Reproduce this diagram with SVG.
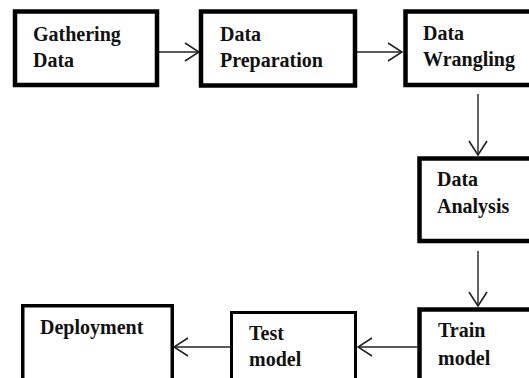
<svg xmlns="http://www.w3.org/2000/svg" width="529" height="378" viewBox="0 0 529 378">
  <style>
    .box { fill: #fff; stroke: #000; stroke-width: 4.5; }
    .thin { stroke-width: 3; }
    .lbl { font-family: "Liberation Serif", "Times New Roman", serif; font-weight: bold; font-size: 20px; fill: #111; }
    .edge { fill: none; stroke: #222; stroke-width: 1.4; }
  </style>
  <defs>
    <marker id="arrow" viewBox="0 0 16 20" refX="15" refY="10" markerWidth="16" markerHeight="20" markerUnits="userSpaceOnUse" orient="auto">
      <path d="M1,1 L15,10 L1,19" fill="none" stroke="#222" stroke-width="1.6"/>
    </marker>
  </defs>
  <rect width="529" height="378" fill="#fff"/>

  <g id="connectors">
    <line class="edge" x1="159" y1="52" x2="199" y2="52" marker-end="url(#arrow)"/>
    <line class="edge" x1="357" y1="52" x2="402" y2="52" marker-end="url(#arrow)"/>
    <line class="edge" x1="478" y1="94" x2="478" y2="155" marker-end="url(#arrow)"/>
    <line class="edge" x1="478" y1="251" x2="478" y2="306" marker-end="url(#arrow)"/>
    <line class="edge" x1="417" y1="347" x2="358" y2="347" marker-end="url(#arrow)"/>
    <line class="edge" x1="230" y1="347" x2="174" y2="347" marker-end="url(#arrow)"/>
  </g>

  <g id="gathering-data">
    <rect class="box" x="15" y="11.5" width="142" height="73.5"/>
    <text class="lbl" x="33" y="41">Gathering</text>
    <text class="lbl" x="33" y="67">Data</text>
  </g>

  <g id="data-preparation">
    <rect class="box" x="201" y="11.5" width="154" height="74"/>
    <text class="lbl" x="220" y="41">Data</text>
    <text class="lbl" x="220" y="67">Preparation</text>
  </g>

  <g id="data-wrangling">
    <rect class="box" x="405.5" y="11.5" width="200" height="73.5"/>
    <text class="lbl" x="423" y="40">Data</text>
    <text class="lbl" x="423" y="66">Wrangling</text>
  </g>

  <g id="data-analysis">
    <rect class="box" x="419.5" y="158.5" width="200" height="82.5"/>
    <text class="lbl" x="437" y="186">Data</text>
    <text class="lbl" x="437" y="213">Analysis</text>
  </g>

  <g id="train-model">
    <rect class="box" x="419.5" y="309.5" width="200" height="100"/>
    <text class="lbl" x="438" y="337">Train</text>
    <text class="lbl" x="438" y="365">model</text>
  </g>

  <g id="test-model">
    <rect class="box thin" x="231.5" y="312.5" width="124" height="100"/>
    <text class="lbl" x="249" y="340">Test</text>
    <text class="lbl" x="249" y="366">model</text>
  </g>

  <g id="deployment">
    <rect class="box" style="stroke-width:3.5" x="22.75" y="305.75" width="149.5" height="100"/>
    <text class="lbl" x="40" y="334">Deployment</text>
  </g>
</svg>
